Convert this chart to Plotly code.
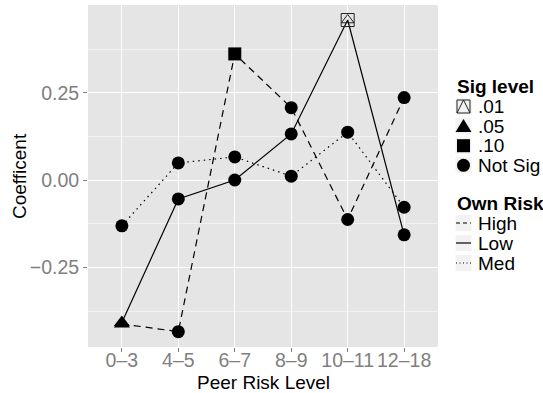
import plotly.graph_objects as go

# ---------------- data ----------------
PEER_LEVELS = ["0–3", "4–5", "6–7", "8–9", "10–11", "12–18"]
HIGH = [-0.412, -0.434, 0.361, 0.207, -0.113, 0.236]
LOW = [-0.408, -0.054, 0.000, 0.132, 0.458, -0.157]
MED = [-0.131, 0.049, 0.066, 0.011, 0.137, -0.078]
HIGH_SIG = [".05", "Not Sig", ".10", "Not Sig", "Not Sig", "Not Sig"]
LOW_SIG = [".05", "Not Sig", "Not Sig", "Not Sig", ".01", "Not Sig"]
MED_SIG = ["Not Sig", "Not Sig", "Not Sig", "Not Sig", "Not Sig", "Not Sig"]
SIG_LEVELS = [".01", ".05", ".10", "Not Sig"]
OWN_RISK = ["High", "Low", "Med"]
Y_TICKS = [-0.25, 0.0, 0.25]
Y_TICK_LABELS = ["−0.25", "0.00", "0.25"]
Y_MINOR = [-0.375, -0.125, 0.125, 0.375]
X_TITLE = "Peer Risk Level"
Y_TITLE = "Coefficent"

# ---------------- style ----------------
W, H = 543, 393
L, R, T, B = 88, 105, 5, 46
PW, PH = W - L - R, H - T - B
FONT = "Liberation Sans, Arial, Helvetica, sans-serif"
DASH = {"High": "7px,5px", "Low": "solid", "Med": "1.5px,4px"}
KEY_DASH = {"High": "4px,3px", "Low": "solid", "Med": "1px,2.5px"}
SERIES = {"High": (HIGH, HIGH_SIG), "Low": (LOW, LOW_SIG), "Med": (MED, MED_SIG)}
FS_TICK = 19.5
FS_TITLE = 19
FS_LEG = 19


def px_x(x):
    return (x - L) / PW


def px_y(y):
    return 1 - (y - T) / PH


fig = go.Figure()

for grp in OWN_RISK:
    vals, _ = SERIES[grp]
    fig.add_trace(go.Scatter(x=PEER_LEVELS, y=vals, mode="lines",
                             line=dict(color="black", width=1.2, dash=DASH[grp]),
                             showlegend=False, hoverinfo="skip"))

MARKERS = {
    ".05": [dict(symbol="triangle-up", size=14, color="black", line=dict(width=0))],
    ".10": [dict(symbol="square", size=13, color="black", line=dict(width=0))],
    "Not Sig": [dict(symbol="circle", size=13, color="black", line=dict(width=0))],
    ".01": [dict(symbol="square-open", size=13, color="#222222", line=dict(width=1)),
            dict(symbol="triangle-up-open", size=11, color="#222222", line=dict(width=1))],
}

for sig in SIG_LEVELS:
    xs, ys = [], []
    for grp in OWN_RISK:
        vals, sigs = SERIES[grp]
        for cat, v, s in zip(PEER_LEVELS, vals, sigs):
            if s == sig:
                xs.append(cat)
                ys.append(v)
    for m in MARKERS[sig]:
        fig.add_trace(go.Scatter(x=xs, y=ys, mode="markers", marker=m,
                                 showlegend=False, name=sig))

# ---------------- manual ggplot-style legend ----------------
shapes = []
annotations = []
KEY_X0, KEY_X1 = 455, 472
TEXT_X = 476


def key_box(cy):
    shapes.append(dict(type="rect", xref="paper", yref="paper",
                       x0=px_x(KEY_X0), x1=px_x(KEY_X1),
                       y0=px_y(cy + 8.5), y1=px_y(cy - 8.5),
                       fillcolor="#F2F2F2", line=dict(color="white", width=1),
                       layer="above"))


def label(text, x, y, size, anchor="left", angle=0, color="black"):
    annotations.append(dict(text=text, x=px_x(x), y=px_y(y),
                            xref="paper", yref="paper", xanchor=anchor, yanchor="middle",
                            textangle=angle, showarrow=False,
                            font=dict(size=size, color=color, family=FONT)))


label("<b>Sig level</b>", KEY_X0, 87, FS_TITLE)
for i, sig in enumerate(SIG_LEVELS):
    cy = 106.5 + i * 19.6
    cx = (KEY_X0 + KEY_X1) / 2
    key_box(cy)
    if sig == ".01":
        shapes.append(dict(type="rect", xref="paper", yref="paper",
                           x0=px_x(cx - 6.5), x1=px_x(cx + 6.5),
                           y0=px_y(cy + 6.5), y1=px_y(cy - 6.5),
                           line=dict(color="#222222", width=1), layer="above"))
        shapes.append(dict(type="path", xref="paper", yref="paper",
                           path=f"M {px_x(cx-6.5)},{px_y(cy+6.5)} L {px_x(cx)},{px_y(cy-6.5)} L {px_x(cx+6.5)},{px_y(cy+6.5)}",
                           line=dict(color="#222222", width=1), layer="above"))
    elif sig == ".05":
        shapes.append(dict(type="path", xref="paper", yref="paper",
                           path=f"M {px_x(cx-8)},{px_y(cy+6)} L {px_x(cx)},{px_y(cy-7)} L {px_x(cx+8)},{px_y(cy+6)} Z",
                           fillcolor="black", line=dict(width=0), layer="above"))
    elif sig == ".10":
        shapes.append(dict(type="rect", xref="paper", yref="paper",
                           x0=px_x(cx - 6.5), x1=px_x(cx + 6.5),
                           y0=px_y(cy + 6.5), y1=px_y(cy - 6.5),
                           fillcolor="black", line=dict(width=0), layer="above"))
    else:
        shapes.append(dict(type="circle", xref="paper", yref="paper",
                           x0=px_x(cx - 6.5), x1=px_x(cx + 6.5),
                           y0=px_y(cy + 6.5), y1=px_y(cy - 6.5),
                           fillcolor="black", line=dict(width=0), layer="above"))
    label(sig, TEXT_X, cy, FS_LEG)

label("<b>Own Risk</b>", KEY_X0, 203, FS_TITLE)
for i, grp in enumerate(OWN_RISK):
    cy = 223 + i * 20
    key_box(cy)
    shapes.append(dict(type="line", xref="paper", yref="paper",
                       x0=px_x(KEY_X0 + 1), x1=px_x(KEY_X1 - 1),
                       y0=px_y(cy), y1=px_y(cy),
                       line=dict(color="black", width=1.2, dash=KEY_DASH[grp]),
                       layer="above"))
    label(grp, TEXT_X, cy, FS_LEG)

# axis titles
label(X_TITLE, L + PW / 2, 382, FS_TITLE, anchor="center")
label(Y_TITLE, 19, 176, FS_TITLE, anchor="center", angle=-90)

fig.update_layout(
    width=W, height=H,
    margin=dict(l=L, r=R, t=T, b=B, pad=0),
    paper_bgcolor="white", plot_bgcolor="#E5E5E5",
    font=dict(family=FONT, size=18, color="black"),
    showlegend=False,
    shapes=shapes, annotations=annotations,
    xaxis=dict(
        type="category", categoryorder="array", categoryarray=PEER_LEVELS,
        range=[-0.6, len(PEER_LEVELS) - 0.4],
        showgrid=True, gridcolor="white", gridwidth=1.3,
        zeroline=False, showline=False,
        ticks="outside", ticklen=4, tickwidth=1, tickcolor="#7F7F7F",
        tickfont=dict(size=FS_TICK, color="#7F7F7F", family=FONT),
        ticklabelstandoff=-8,
        fixedrange=True, automargin=False,
    ),
    yaxis=dict(
        range=[-0.478, 0.501],
        tickvals=Y_TICKS, ticktext=Y_TICK_LABELS,
        showgrid=True, gridcolor="white", gridwidth=1.3,
        zeroline=False, showline=False,
        ticks="outside", ticklen=4, tickwidth=1, tickcolor="#7F7F7F",
        tickfont=dict(size=FS_TICK, color="#7F7F7F", family=FONT),
        minor=dict(tickvals=Y_MINOR, showgrid=True, gridcolor="#F2F2F2", gridwidth=0.8, ticks=""),
        fixedrange=True, automargin=False,
    ),
)

fig.write_html("out.html", config={"displayModeBar": False},
               post_script="document.body.style.margin='0px';document.body.style.padding='0px';")
